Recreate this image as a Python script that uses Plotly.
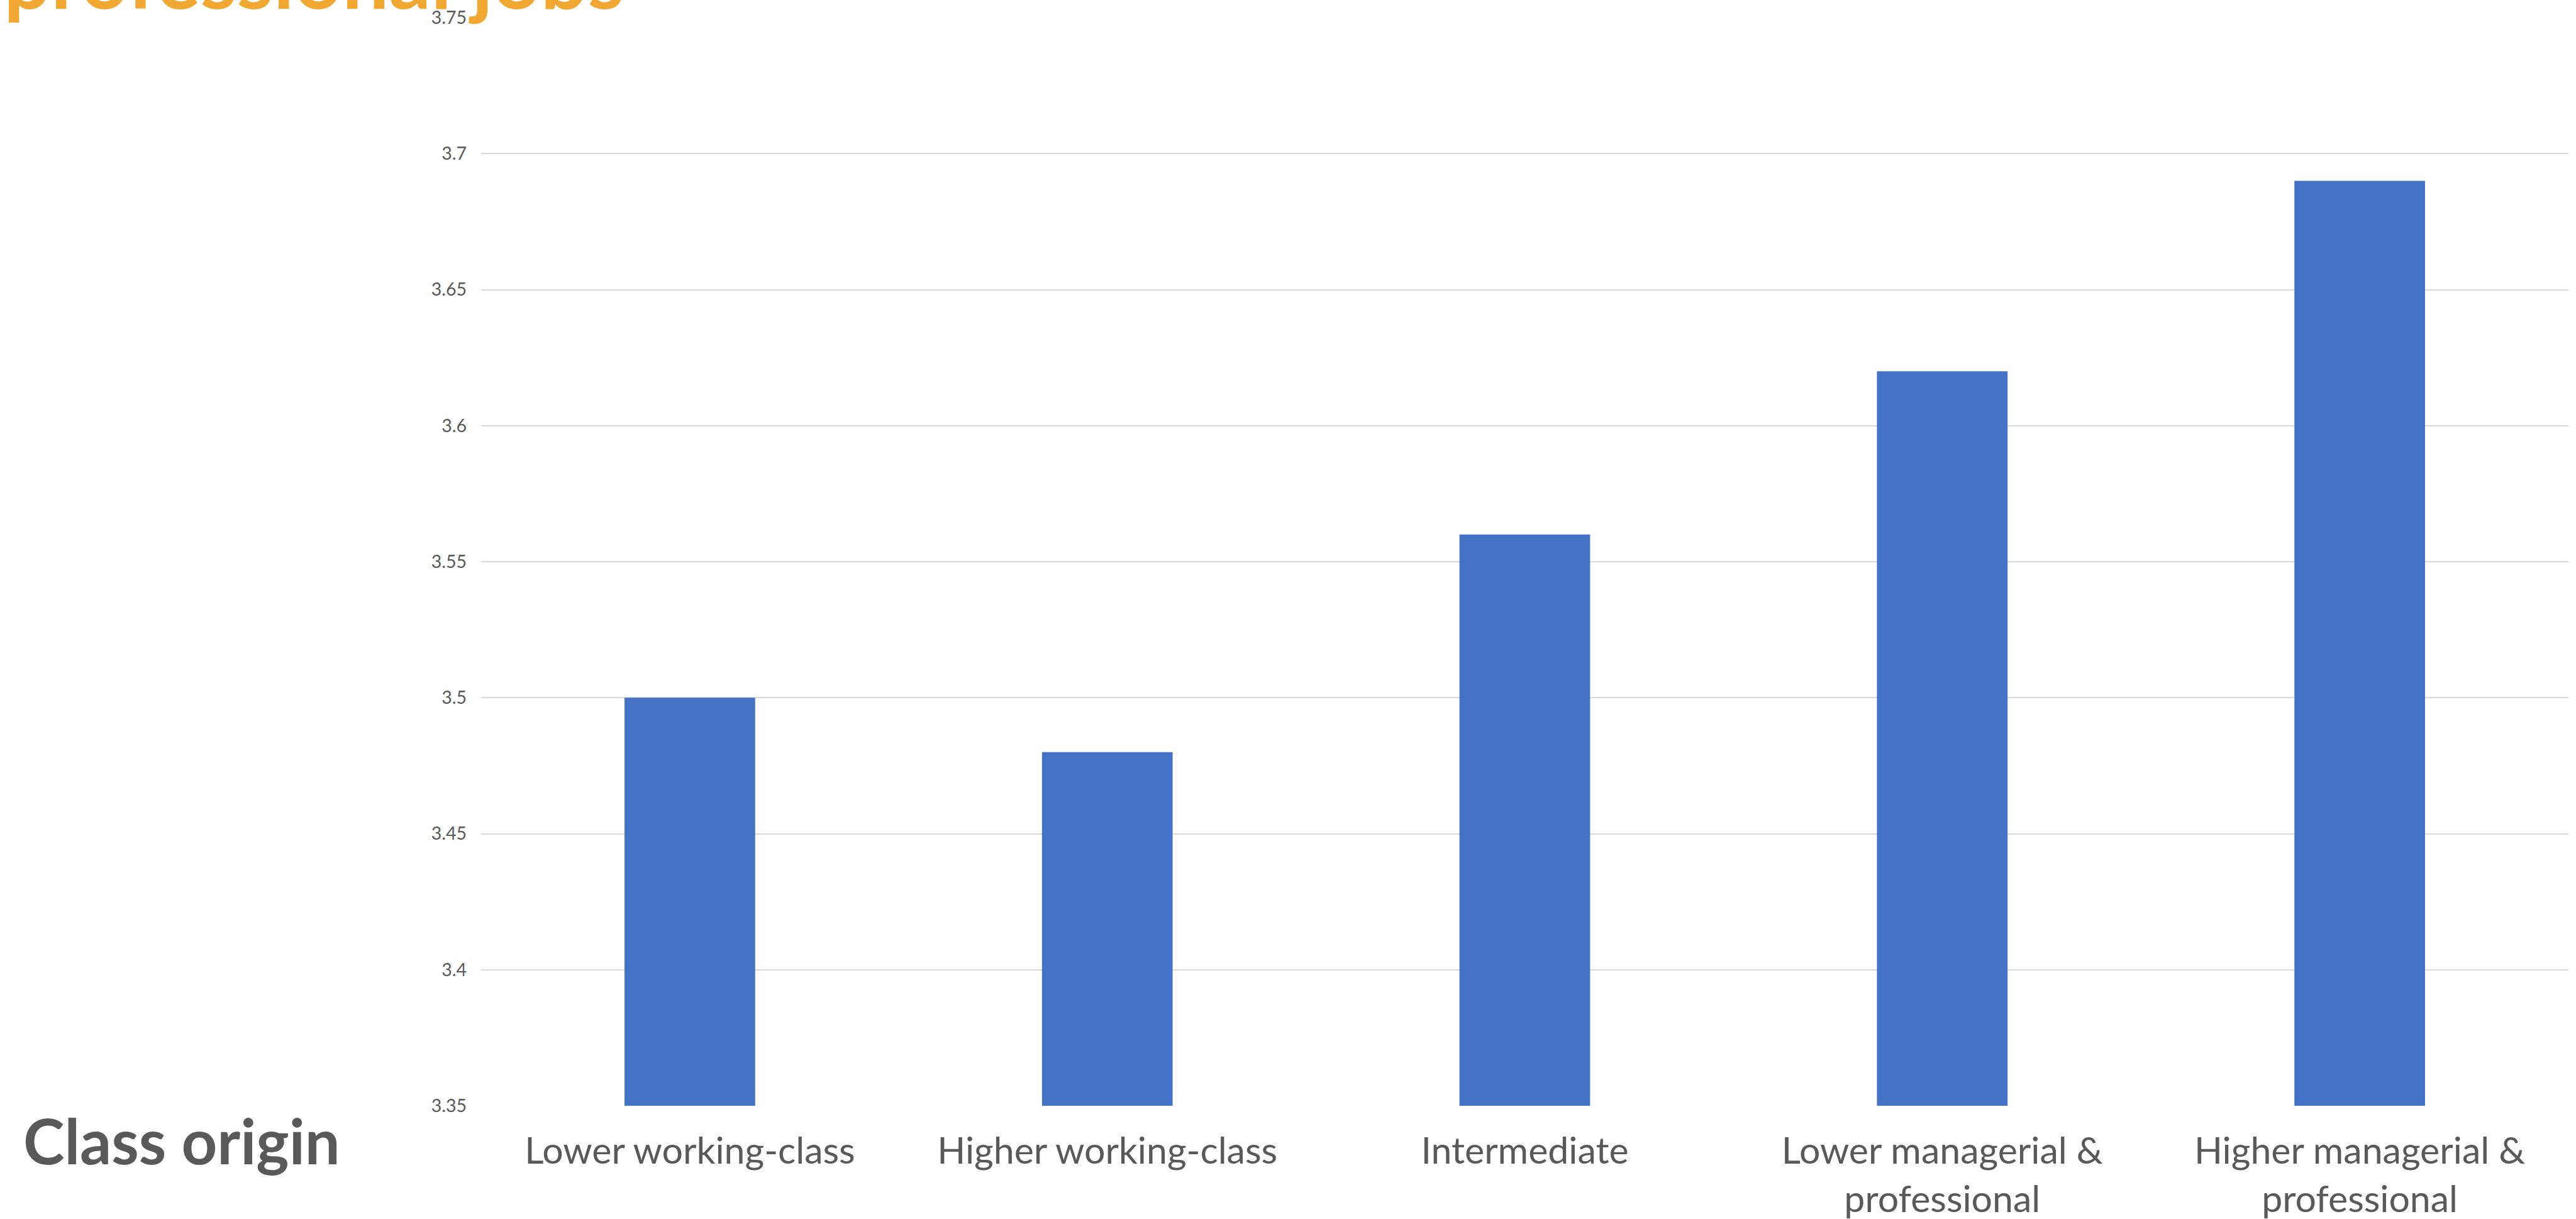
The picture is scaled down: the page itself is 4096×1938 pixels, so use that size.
import plotly.graph_objects as go

# Class origin categories and mean scores
categories = [
    "Lower working-class",
    "Higher working-class",
    "Intermediate",
    "Lower managerial &<br>professional",
    "Higher managerial &<br>professional",
]
values = [3.50, 3.48, 3.56, 3.62, 3.69]
y_floor = 3.35
y_ticks = [3.35, 3.4, 3.45, 3.5, 3.55, 3.6, 3.65, 3.7, 3.75]
y_tick_text = ["3.35", "3.4", "3.45", "3.5", "3.55", "3.6", "3.65", "3.7", "3.75"]

title_text = "professional jobs"
axis_caption = "Class origin"

BAR_BLUE = "#4472C4"
GRID = "#D9D9D9"
TEXT_GREY = "#595959"
ORANGE = "#F0A832"
FONT = "Lato, 'Open Sans', sans-serif"

fig = go.Figure()
# bars start at the axis floor, so each bar's height is its value above it
fig.add_trace(
    go.Bar(
        x=categories,
        y=[v - y_floor for v in values],
        base=y_floor,
        width=0.313,
        marker=dict(color=BAR_BLUE, line=dict(width=0)),
        hoverinfo="skip",
    )
)

fig.update_layout(
    width=4096,
    height=1938,
    margin=dict(l=765, r=12, t=28, b=180, pad=0, autoexpand=False),
    paper_bgcolor="white",
    plot_bgcolor="white",
    showlegend=False,
    font=dict(family=FONT, color=TEXT_GREY),
    xaxis=dict(
        automargin=False,
        showgrid=False,
        showline=False,
        zeroline=False,
        ticks="",
        tickfont=dict(family=FONT, size=59, color=TEXT_GREY),
        ticklabelstandoff=32,
    ),
    yaxis=dict(
        automargin=False,
        range=[y_floor, 3.75],
        tickvals=y_ticks,
        ticktext=y_tick_text,
        showgrid=True,
        gridcolor=GRID,
        gridwidth=2,
        zeroline=False,
        showline=False,
        ticks="",
        tickfont=dict(family=FONT, size=28.5, color=TEXT_GREY),
        ticklabelstandoff=22,
    ),
    annotations=[
        dict(
            text="<b>" + title_text + "</b>",
            xref="paper", yref="paper",
            x=(4 - 765) / 3319, y=0.9908,
            xanchor="left", yanchor="bottom",
            showarrow=False,
            font=dict(family=FONT, size=132, color=ORANGE),
        ),
        dict(
            text="<b>" + axis_caption + "</b>",
            xref="paper", yref="paper",
            x=(35 - 765) / 3319, y=-0.0671,
            xanchor="left", yanchor="bottom",
            showarrow=False,
            font=dict(family=FONT, size=99, color=TEXT_GREY),
        ),
    ],
)

fig.write_html("out.html")
